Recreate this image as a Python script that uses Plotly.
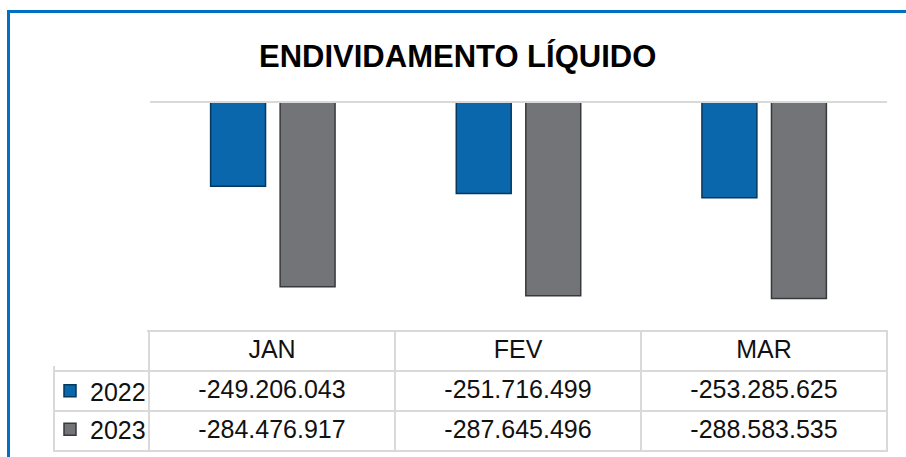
import plotly.graph_objects as go

# dados
meses = ["JAN", "FEV", "MAR"]
anos = ["2022", "2023"]
valores_2022 = [-249206043, -251716499, -253285625]
valores_2023 = [-284476917, -287645496, -288583535]

cor_2022 = "#0B67AB"
cor_2023 = "#737478"
borda_2022 = "#06375E"
borda_2023 = "#38393B"
cinza_linha = "#D9D9D9"
fonte = "Liberation Sans"


def fmt(v):
    return f"{v:,}".replace(",", ".")


fig = go.Figure()

fig.add_trace(go.Bar(
    x=meses, y=valores_2022, name=anos[0], legendgroup="a",
    marker=dict(color=cor_2022, line=dict(color=borda_2022, width=1.5)),
))
fig.add_trace(go.Bar(
    x=meses, y=valores_2023, name=anos[1], legendgroup="b",
    marker=dict(color=cor_2023, line=dict(color=borda_2023, width=1.5)),
))

# tabela de dados abaixo do gráfico (a legenda fica na 1a coluna)
fig.add_trace(go.Table(
    domain=dict(x=[54 / 906, 887 / 906], y=[0, 126 / 457]),
    columnwidth=[95, 246, 246, 246],
    header=dict(
        values=[""] + meses,
        height=40,
        align="center",
        fill_color="white",
        line=dict(color=cinza_linha, width=2),
        font=dict(family=fonte, size=25, color="#111111"),
    ),
    cells=dict(
        values=[["", ""]] + [[fmt(a), fmt(b)] for a, b in zip(valores_2022, valores_2023)],
        height=40,
        align="center",
        fill_color="white",
        line=dict(color=cinza_linha, width=2),
        font=dict(family=fonte, size=25, color="#111111"),
    ),
))

fig.update_layout(
    width=906, height=457,
    margin=dict(l=0, r=0, t=0, b=0),
    paper_bgcolor="white", plot_bgcolor="white",
    showlegend=True,
    legend=dict(x=50 / 906, xanchor="left", y=(457 - 368) / 457, yanchor="top",
                bgcolor="rgba(255,255,255,0)", font=dict(family=fonte, size=25, color="#111111"),
                tracegroupgap=3, itemwidth=30),
    barmode="group", bargap=0.434, bargroupgap=0.21,
    font=dict(family=fonte, color="#111111"),
    xaxis=dict(domain=[150 / 906, 887 / 906], side="top", showticklabels=False,
               showline=True, linecolor=cinza_linha, linewidth=2, ticks="",
               showgrid=False, zeroline=False, fixedrange=True),
    yaxis=dict(domain=[126 / 457, 354 / 457], range=[-300e6, -220e6],
               showticklabels=False, showgrid=False, zeroline=False, fixedrange=True),
    annotations=[dict(
        text="<b>ENDIVIDAMENTO LÍQUIDO</b>", xref="paper", yref="paper",
        x=457 / 906, y=(457 - 56) / 457, xanchor="center", yanchor="middle",
        showarrow=False, font=dict(family=fonte, size=31, color="black"),
    )],
    shapes=[
        # moldura azul
        dict(type="line", xref="paper", yref="paper", x0=8.5 / 906, x1=8.5 / 906,
             y0=0, y1=(457 - 10) / 457, line=dict(color="#0070C0", width=3)),
        dict(type="line", xref="paper", yref="paper", x0=7 / 906, x1=1,
             y0=(457 - 11.5) / 457, y1=(457 - 11.5) / 457, line=dict(color="#0070C0", width=3)),
        # célula vazia do canto da tabela sem borda
        dict(type="rect", xref="paper", yref="paper", layer="above",
             x0=45 / 906, x1=147 / 906, y0=(457 - 366) / 457, y1=(457 - 320) / 457,
             fillcolor="white", line=dict(width=0)),
    ],
)

fig.write_html("out.html", config={"displayModeBar": False},
               post_script="document.body.style.margin='0';")
